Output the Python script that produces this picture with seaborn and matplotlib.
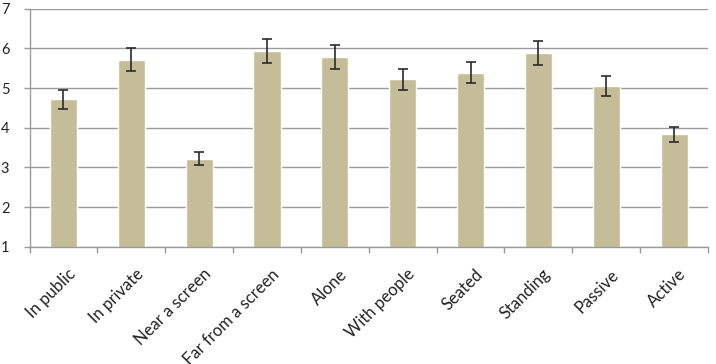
import matplotlib
matplotlib.use("Agg")
import matplotlib.pyplot as plt
from matplotlib.transforms import ScaledTranslation
import seaborn as sns
import pandas as pd

categories = ["In public", "In private", "Near a screen", "Far from a screen", "Alone",
              "With people", "Seated", "Standing", "Passive", "Active"]
means = [4.72, 5.71, 3.22, 5.93, 5.78, 5.22, 5.39, 5.89, 5.05, 3.83]
errors = [0.24, 0.29, 0.16, 0.30, 0.30, 0.27, 0.27, 0.30, 0.26, 0.20]
yticks = [1, 2, 3, 4, 5, 6, 7]

df = pd.DataFrame({"cat": categories, "mean": means, "err": errors})

sns.set_theme(style="white")
plt.rcParams["font.family"] = ["Lato", "DejaVu Sans"]

fig = plt.figure(figsize=(7.16, 3.64), dpi=100)
ax = fig.add_axes([29.5 / 716, 1 - 246.7 / 364, (708 - 29.5) / 716, (246.7 - 8.7) / 364])

sns.barplot(data=df, x="cat", y="mean", color="#C4BD97", saturation=1, width=0.4,
            errorbar=None, ax=ax, zorder=2)
ax.errorbar(range(len(categories)), df["mean"], yerr=df["err"], fmt="none",
            ecolor="#2b2b2b", elinewidth=1.2, capsize=3.5, capthick=1.2, zorder=3)

ax.set_ylim(1, 7)
ax.set_xlim(-0.5, len(categories) - 0.5)
ax.set_yticks(yticks)
ax.set_yticklabels([str(t) for t in yticks], fontsize=10.5, color="#222222")
ax.yaxis.grid(True, color="#9a9a9a", linewidth=1.0, zorder=0)
ax.set_axisbelow(True)
ax.tick_params(axis="y", length=4.5, color="#9a9a9a", width=1.0, pad=10, left=True)

ax.set_xticks([i - 0.5 for i in range(len(categories) + 1)], minor=False)
ax.set_xticklabels([""] * (len(categories) + 1))
ax.tick_params(axis="x", length=4, color="#9a9a9a", width=1.0, bottom=True)
ax.set_xticks(range(len(categories)), minor=True)
ax.set_xticklabels(categories, minor=True, rotation=45, ha="right", va="top",
                   rotation_mode="anchor", fontsize=12, color="#222222")
ax.tick_params(axis="x", which="minor", length=0, pad=14)
shift = ScaledTranslation(4 / 100, 0, fig.dpi_scale_trans)
for lab in ax.get_xticklabels(minor=True):
    lab.set_transform(lab.get_transform() + shift)

ax.set_xlabel("")
ax.set_ylabel("")
for s in ["top", "right"]:
    ax.spines[s].set_visible(False)
for s in ["left", "bottom"]:
    ax.spines[s].set_color("#9a9a9a")
    ax.spines[s].set_linewidth(1.0)

fig.savefig("out.png", dpi=100, facecolor="white")
